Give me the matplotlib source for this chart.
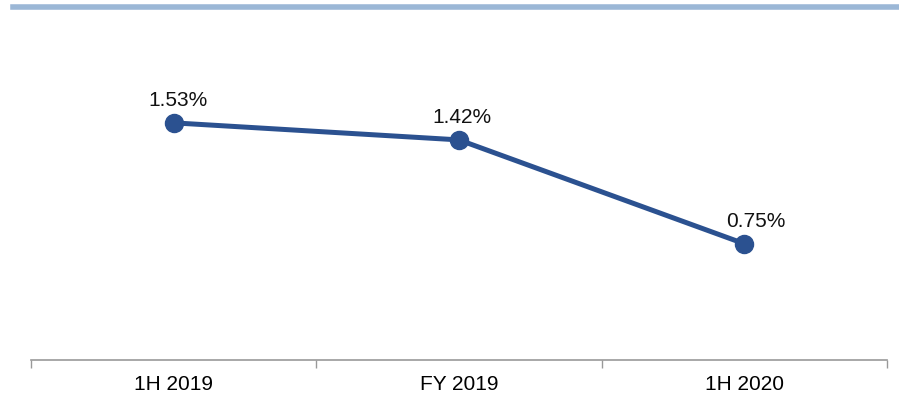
import matplotlib
matplotlib.use('Agg')
from matplotlib import pyplot as plt

periods = ['1H 2019', 'FY 2019', '1H 2020']
ratio = [1.53, 1.42, 0.75]
labels = ['1.53%', '1.42%', '0.75%']

plt.rcParams['font.family'] = ['Liberation Sans', 'DejaVu Sans']

fig = plt.figure(figsize=(8.99, 4.01), dpi=100)
ax = fig.add_axes([31 / 899, 41 / 401, 856 / 899, 340 / 401])

x = [0.5, 1.5, 2.5]
ax.plot(x, ratio, color='#2B5190', linewidth=3.6, marker='o', markersize=13,
        solid_capstyle='round')

label_dx = [3, 2, 8]
for xi, yi, lab, dx in zip(x, ratio, labels, label_dx):
    ax.annotate(lab, (xi, yi), xytext=(dx, 9), textcoords='offset points',
                ha='center', va='bottom', fontsize=15, color='#111111')

ax.set_xlim(0, 3)
ax.set_ylim(0, 340 / 155)
ax.set_xticks([0, 1, 2, 3])
ax.set_xticklabels([])
ax.set_xticks(x, minor=True)
ax.set_xticklabels(periods, minor=True, fontsize=15)
ax.tick_params(axis='x', which='major', length=6, width=1, color='#999999')
ax.tick_params(axis='x', which='minor', length=0, pad=11)
ax.set_yticks([])
for side in ['top', 'right', 'left']:
    ax.spines[side].set_visible(False)
ax.spines['bottom'].set_color('#999999')
ax.spines['bottom'].set_linewidth(1.2)

# top band
fig.add_artist(plt.Line2D([13 / 899, 1], [1 - 6.5 / 401, 1 - 6.5 / 401],
                          transform=fig.transFigure, color='#9BB7D6', linewidth=4))

fig.savefig('out.png', dpi=100)
